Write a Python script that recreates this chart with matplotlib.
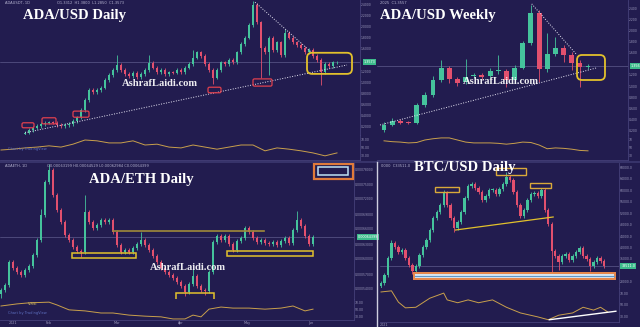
import matplotlib
matplotlib.use('Agg')
import matplotlib.pyplot as plt
from matplotlib.patches import FancyBboxPatch, Rectangle
from matplotlib.lines import Line2D
from matplotlib.ticker import MultipleLocator, FuncFormatter
from matplotlib.transforms import blended_transform_factory

# ---------------- data ----------------
# ADA/USD daily (closes, open of first candle, notable wicks)
ada_daily_close = [0.09, 0.14, 0.18, 0.21, 0.25, 0.27, 0.28, 0.27, 0.23, 0.21,
                   0.23, 0.25, 0.30, 0.37, 0.50, 0.68, 0.86, 0.82, 0.86, 0.90,
                   1.04, 1.13, 1.22, 1.31, 1.22, 1.15, 1.11, 1.17, 1.09, 1.15,
                   1.22, 1.35, 1.26, 1.18, 1.22, 1.15, 1.18, 1.17, 1.22, 1.18,
                   1.26, 1.33, 1.44, 1.54, 1.47, 1.33, 1.22, 1.08, 1.22, 1.36,
                   1.33, 1.40, 1.36, 1.54, 1.69, 1.80, 2.03, 2.39, 2.08, 1.62,
                   1.54, 1.80, 1.58, 1.72, 1.49, 1.89, 1.80, 1.72, 1.67, 1.62,
                   1.54, 1.58, 1.47, 1.40, 1.18, 1.33, 1.29, 1.36, 1.36]
ada_daily_first_open = 0.07
ada_daily_wick_hi = {23: 1.49, 31: 1.49, 42: 1.58, 57: 2.46, 65: 1.95}
ada_daily_wick_lo = {47: 0.97, 59: 1.08, 61: 1.13, 74: 0.95}
ada_daily_rsi_x = [-6, -3, 0, 3, 6, 9, 12, 15, 18, 21, 24, 27, 30, 33, 36,
                   39, 42, 45, 48, 51, 54, 57, 60, 63, 66, 69, 72, 75, 78]
ada_daily_rsi = [44, 46, 49, 51, 54, 51, 58, 68, 66, 61, 61, 66, 56, 58, 51,
                 49, 56, 51, 46, 51, 56, 56, 42, 49, 46, 42, 37, 30, 37]

# ADA/USD weekly OHLC
ada_weekly_open = [0.21, 0.30, 0.37, 0.35, 0.34, 0.66, 0.84, 1.11, 1.33, 1.13,
                   1.07, 1.18, 1.20, 1.18, 1.27, 1.27, 1.11, 1.33, 1.78, 2.32,
                   1.31, 1.58, 1.69, 1.56, 1.42, 1.34]
ada_weekly_close = [0.30, 0.37, 0.34, 0.34, 0.66, 0.84, 1.11, 1.33, 1.13, 1.06,
                    1.16, 1.19, 1.16, 1.27, 1.28, 1.11, 1.33, 1.78, 2.32, 1.31,
                    1.58, 1.69, 1.56, 1.42, 1.34, 1.36]
ada_weekly_high = [0.35, 0.43, 0.40, 0.37, 0.70, 0.89, 1.18, 1.47, 1.36, 1.17,
                   1.49, 1.24, 1.24, 1.33, 1.56, 1.31, 1.38, 1.82, 2.46, 2.37,
                   1.96, 1.88, 1.74, 1.62, 1.47, 1.40]
ada_weekly_low = [0.17, 0.28, 0.32, 0.32, 0.32, 0.62, 0.80, 1.08, 1.06, 1.00,
                  1.04, 1.14, 1.12, 1.14, 1.22, 0.98, 1.06, 1.30, 1.74, 1.07,
                  1.26, 1.54, 1.43, 1.29, 0.98, 1.31]
ada_weekly_rsi = [66, 64, 63, 61, 62, 68, 71, 73, 73, 68, 63, 61, 61, 61, 60,
                  58, 60, 63, 62, 56, 47, 49, 48, 46, 43, 42]

# ADA/ETH daily, in micro-ETH
ada_eth_close = [538, 548, 594, 582, 574, 568, 578, 586, 608, 638,
                 688, 754, 778, 728, 698, 674, 648, 638, 624, 616,
                 614, 694, 674, 662, 668, 678, 674, 678, 654, 628,
                 614, 618, 614, 622, 630, 638, 628, 618, 606, 594,
                 582, 574, 568, 562, 554, 546, 534, 550, 566, 546,
                 538, 536, 574, 634, 646, 638, 646, 630, 618, 636,
                 642, 662, 654, 642, 634, 638, 632, 630, 634, 628,
                 636, 642, 632, 658, 678, 666, 646, 630, 644]
ada_eth_first_open = 530
ada_eth_wick_hi = {10: 700, 12: 790, 21: 728, 35: 654, 48: 580, 74: 696}
ada_eth_wick_lo = {0: 522, 20: 604, 46: 526, 51: 528}
ada_eth_rsi_x = [0, 4, 7, 12, 14, 17, 21, 25, 28, 32, 36, 40, 43, 46, 48,
                 50, 52, 55, 58, 62, 66, 70, 73, 76, 78]
ada_eth_rsi = [60, 66, 69, 71, 63, 49, 46, 40, 40, 34, 31, 29, 23, 23, 34,
               29, 51, 57, 54, 54, 51, 54, 60, 46, 51]

# BTC/USD daily
btc_close = [27550, 30350, 36300, 41550, 40150, 38400, 39100, 36300, 33850, 31750,
             33500, 37350, 40150, 42600, 46100, 50300, 52400, 54850, 59050, 54850,
             50300, 46800, 48900, 52400, 57300, 61500, 62200, 60800, 59400, 56600,
             58000, 60100, 60100, 58700, 60450, 62200, 64650, 63600, 59400, 54850,
             51000, 53100, 56600, 58700, 59050, 58000, 60100, 53100, 48200, 38850,
             37100, 35000, 37100, 37800, 35700, 37100, 38500, 39900, 37100, 35950,
             33500, 34900, 36300, 35250, 33511]
btc_first_open = 26500
btc_wick_hi = {3: 42600, 18: 60100, 36: 66400}
btc_wick_lo = {9: 30700, 21: 45400, 49: 31400, 51: 32100, 60: 31750}
btc_rsi_x = [0, 3, 5, 7, 10, 14, 18, 19, 22, 25, 28, 32, 36, 40, 45, 48, 51,
             55, 58, 61, 63, 65]
btc_rsi = [73, 75, 55, 45, 46, 62, 71, 59, 54, 59, 54, 59, 46, 36, 29, 24, 32,
           36, 46, 41, 46, 38]

# ---------------- style ----------------
W, H = 640, 327
BG = '#221c4f'
UP = '#45c39c'
DOWN = '#e2506e'
GOLD = '#e2c12c'
IND = '#c9a04c'
EDGE = '#45417a'
LABEL = '#9d9bbd'
SERIF = 'Liberation Serif'

fig = plt.figure(figsize=(6.4, 3.27), dpi=100, facecolor=BG)


def px_axes(x0, y0, x1, y1):
    ax = fig.add_axes([x0 / W, 1 - y1 / H, (x1 - x0) / W, (y1 - y0) / H])
    ax.set_facecolor(BG)
    for name, s in ax.spines.items():
        s.set_visible(name in ('right', 'bottom'))
        s.set_color(EDGE)
        s.set_linewidth(0.6)
    ax.yaxis.tick_right()
    ax.tick_params(axis='y', labelsize=2.2, colors=LABEL, length=0, pad=0.8)
    ax.tick_params(axis='x', labelsize=2.4, colors=LABEL, length=0, pad=1)
    ax.set_xticks([])
    return ax


def price_fmt(fmt, last, gap):
    # hide tick labels that would sit under the last-price tag
    return FuncFormatter(lambda v, _: '' if abs(v - last) < gap else fmt.format(v))


def from_closes(closes, first_open, pad, hi_extra, lo_extra):
    opens = [first_open] + closes[:-1]
    highs, lows = [], []
    for i, (o, c) in enumerate(zip(opens, closes)):
        highs.append(hi_extra.get(i, max(o, c) + pad))
        lows.append(lo_extra.get(i, min(o, c) - pad))
    return opens, highs, lows


def candles(ax, o, h, l, c, width, min_body):
    x = list(range(len(c)))
    cols = [UP if cc >= oo else DOWN for oo, cc in zip(o, c)]
    ax.vlines(x, l, h, colors=cols, lw=0.6, zorder=2)
    bottoms = [min(oo, cc) for oo, cc in zip(o, c)]
    heights = [max(abs(cc - oo), min_body) for oo, cc in zip(o, c)]
    ax.bar(x, heights, bottom=bottoms, width=width, color=cols, lw=0, zorder=3)


def last_price(ax, value, text):
    tr = blended_transform_factory(ax.transAxes, ax.transData)
    ax.axhline(value, color='#6d6a9c', lw=0.4, zorder=1)
    ax.text(1.01, value, text, transform=tr, fontsize=2.4, color='white',
            va='center', ha='left', clip_on=False,
            bbox=dict(boxstyle='square,pad=0.3', fc='#3dbb8c', ec='none'))


def box(ax, x0, x1, y0, y1, color, lw, round_px=0, fill='none'):
    pos = ax.get_position()
    xr = ax.get_xlim()
    yr = ax.get_ylim()
    ux = (xr[1] - xr[0]) / (pos.width * W)
    uy = (yr[1] - yr[0]) / (pos.height * H)
    if round_px:
        p = FancyBboxPatch((x0, y0), x1 - x0, y1 - y0,
                           boxstyle=f'round,pad=0,rounding_size={round_px * ux}',
                           mutation_aspect=uy / ux, fc=fill, ec=color, lw=lw,
                           zorder=5, clip_on=False)
    else:
        p = Rectangle((x0, y0), x1 - x0, y1 - y0, fc=fill, ec=color, lw=lw,
                      zorder=5, clip_on=False)
    ax.add_patch(p)


def dotted(ax, xs, ys):
    ax.plot(xs, ys, ls=(0, (1, 1.6)), color='#e8e6f5', lw=0.7, zorder=4)


def indicator(ax, xs, ys, xlim):
    ax.plot(xs, ys, color=IND, lw=0.7, zorder=3)
    ax.set_xlim(*xlim)
    ax.set_ylim(20, 80)
    ax.set_yticks([30, 50, 70])
    ax.yaxis.set_major_formatter(FuncFormatter(lambda v, _: f'{v:.2f}'))


def title(x, y, s, size=10.6):
    fig.text(x / W, 1 - y / H, s, ha='center', va='center', fontsize=size,
             family=SERIF, weight='bold', color='white', zorder=10)


def watermark(x, y):
    fig.text(x / W, 1 - y / H, 'AshrafLaidi.com', ha='center', va='center',
             fontsize=7.6, family=SERIF, weight='bold', color='white',
             alpha=0.92, zorder=10)


def small(x, y, s, color='#b4b2cf'):
    fig.text(x / W, 1 - y / H, s, ha='left', va='center', fontsize=2.6,
             color=color, zorder=10)


# ---------------- panel 1: ADA/USD daily ----------------
ax1 = px_axes(0, 0, 360, 135)
ax1.set_xlim(-6.25, 83.75)
ax1.set_ylim(0.05, 2.48)
o, h, l = from_closes(ada_daily_close, ada_daily_first_open, 0.03,
                      ada_daily_wick_hi, ada_daily_wick_lo)
candles(ax1, o, h, l, ada_daily_close, 0.72, 0.012)
ax1.yaxis.set_major_locator(MultipleLocator(0.2))
ax1.yaxis.set_major_formatter(price_fmt('{:.4f}', 1.3573, 0.09))
last_price(ax1, 1.3573, '1.3573')
dotted(ax1, [0, 80.5], [0.09, 1.31])
dotted(ax1, [57.5, 71.75], [2.44, 1.53])
box(ax1, 70.5, 81.75, 1.15, 1.53, GOLD, 1.3, round_px=5)
for bx in [(-0.75, 2.25, 0.18, 0.27), (4.25, 7.75, 0.25, 0.36),
           (12, 16, 0.37, 0.48), (45.75, 49, 0.81, 0.91), (57, 61.75, 0.93, 1.06)]:
    box(ax1, *bx, '#e0404e', 0.9, round_px=1.5)
ind1 = px_axes(0, 135, 360, 160)
indicator(ind1, ada_daily_rsi_x, ada_daily_rsi, ax1.get_xlim())

# ---------------- panel 2: ADA/USD weekly ----------------
ax2 = px_axes(377, 0, 628, 135)
ax2.set_xlim(-0.86, 29.9)
ax2.set_ylim(0.12, 2.55)
candles(ax2, ada_weekly_open, ada_weekly_high, ada_weekly_low,
        ada_weekly_close, 0.6, 0.015)
ax2.yaxis.set_major_locator(MultipleLocator(0.2))
ax2.yaxis.set_major_formatter(price_fmt('{:.3f}', 1.3557, 0.09))
last_price(ax2, 1.3557, '1.356')
dotted(ax2, [-0.49, 26.1], [0.30, 1.33])
dotted(ax2, [18.1, 23.65], [2.48, 1.56])
box(ax2, 23.65, 27.08, 1.11, 1.56, GOLD, 1.3, round_px=5)
ind2 = px_axes(377, 135, 628, 160)
indicator(ind2, list(range(len(ada_weekly_rsi))), ada_weekly_rsi, ax2.get_xlim())
ind2.yaxis.set_major_formatter(FuncFormatter(lambda v, _: f'{v:.0f}'))

# ---------------- panel 3: ADA/ETH daily ----------------
ax3 = px_axes(0, 163, 354, 299)
ax3.set_xlim(-0.25, 88.25)
ax3.set_ylim(520, 792)
o, h, l = from_closes(ada_eth_close, ada_eth_first_open, 4,
                      ada_eth_wick_hi, ada_eth_wick_lo)
candles(ax3, o, h, l, ada_eth_close, 0.72, 1.5)
ax3.yaxis.set_major_locator(MultipleLocator(30))
ax3.yaxis.set_major_formatter(FuncFormatter(
    lambda v, _: '' if abs(v - 644) < 12 else f'{v * 1e-6:.8f}'))
last_price(ax3, 644, '0.00064399')
box(ax3, 17.75, 33.75, 602, 612, GOLD, 1.1)
box(ax3, 43.75, 53.25, 518, 532, GOLD, 1.1)
box(ax3, 56.5, 78, 606, 616, GOLD, 1.1)
ax3.plot([28, 65.75], [656, 656], color='#a08a3a', lw=1.2, zorder=4)
box(ax3, 78.25, 88, 760, 790, '#e07a3a', 1.6)
box(ax3, 79.25, 86.75, 768, 784, '#bfe3f5', 1.1)
ind3 = px_axes(0, 299, 354, 320)
indicator(ind3, ada_eth_rsi_x, ada_eth_rsi, ax3.get_xlim())
ind3.set_xticks([3, 12, 29, 45, 61.5, 77.5])
ind3.set_xticklabels(['2021', 'Feb', 'Mar', 'Apr', 'May', 'Jun'])

# ---------------- panel 4: BTC/USD daily ----------------
ax4 = px_axes(380, 163, 619, 288)
ax4.set_xlim(-0.29, 68.3)
ax4.set_ylim(25800, 69550)
o, h, l = from_closes(btc_close, btc_first_open, 700, btc_wick_hi, btc_wick_lo)
candles(ax4, o, h, l, btc_close, 0.7, 250)
ax4.yaxis.set_major_locator(MultipleLocator(4000))
ax4.yaxis.set_major_formatter(price_fmt('{:.1f}', 33511, 1800))
last_price(ax4, 33511, '33511.0')
box(ax4, 15.4, 22.3, 59500, 61150, '#d9a93a', 1.0)
box(ax4, 33.1, 41.7, 65350, 67800, '#d9a93a', 1.0)
box(ax4, 42.9, 48.9, 60800, 62550, '#d9a93a', 1.0)
ax4.plot([21.4, 49.4], [46100, 50650], color=GOLD, lw=0.9, zorder=4)
ax4.add_patch(Rectangle((9.1, 28600), 58.3, 2800, fc='#e5874c', ec='none',
                        zorder=5, clip_on=False))
ax4.add_patch(Rectangle((9.7, 29300), 57.1, 1400, fc='#d6e4f0', ec='none',
                        zorder=6, clip_on=False))
ax4.plot([9.7, 66.8], [30000, 30000], color='#5f97c8', lw=0.8, zorder=7,
         clip_on=False)
ind4 = px_axes(380, 288, 619, 322)
indicator(ind4, btc_rsi_x, btc_rsi, ax4.get_xlim())
ind4.plot([48.3, 67.4], [24, 39], color='white', lw=1.0, zorder=4)
ind4.set_xticks([1])
ind4.set_xticklabels(['2021'])

# ---------------- texts ----------------
title(74.5, 15, 'ADA/USD Daily')
title(437.5, 15, 'ADA/USD Weekly')
title(141, 179, 'ADA/ETH Daily')
title(465, 167, 'BTC/USD Daily')
watermark(160, 83)
watermark(501, 82)
watermark(188, 267)

small(5, 3, 'ADAUSDT, 1D')
small(57, 3, 'O1.3312  H1.3800  L1.2850  C1.3573')
small(380, 3, '2025  C1.3557')
small(5, 166, 'ADAETH, 1D')
small(47, 166, 'O0.00063199 H0.00064529 L0.00062984 C0.00064399')
small(381, 166, '0000  C33511.0')
small(8, 149, 'Chart by TradingView', '#5d6fc0')
small(8, 313, 'Chart by TradingView', '#5d6fc0')
small(28, 304, 'V-RSI', '#d8c060')

# panel separators
fig.add_artist(Line2D([0, 1], [1 - 161.5 / H, 1 - 161.5 / H],
                      color='#3c3870', lw=1.2, transform=fig.transFigure))
fig.add_artist(Line2D([377 / W, 377 / W], [0, 1 - 162 / H],
                      color='#cfcfe0', lw=1.0, transform=fig.transFigure))

fig.savefig('out.png', dpi=100, facecolor=BG)
